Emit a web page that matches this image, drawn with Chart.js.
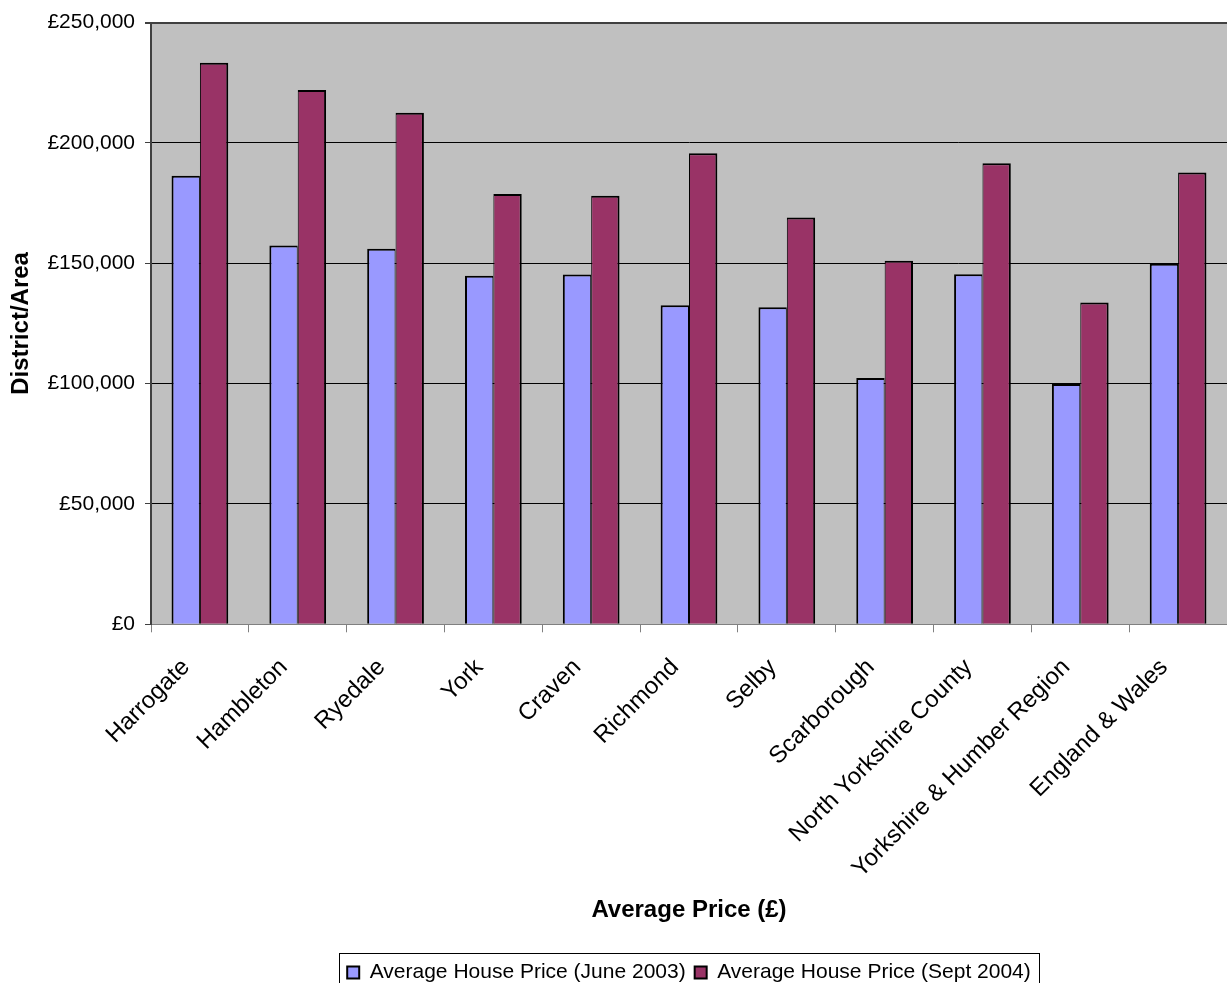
<!DOCTYPE html>
<html>
<head>
<meta charset="utf-8">
<script src="https://cdn.jsdelivr.net/npm/chart.js@4.4.1/dist/chart.umd.min.js"></script>
<style>
  html, body { margin: 0; padding: 0; background: #ffffff; }
  #wrap { width: 1227px; height: 983px; position: relative; }
</style>
</head>
<body>
<div id="wrap"><canvas id="c" width="1227" height="983"></canvas></div>
<script>
const categories = ["Harrogate", "Hambleton", "Ryedale", "York", "Craven", "Richmond", "Selby", "Scarborough", "North Yorkshire County", "Yorkshire & Humber Region", "England & Wales"];
const june2003 = [186400, 157400, 156000, 144800, 145300, 132600, 131700, 102300, 145400, 99800, 149800];
const sept2004 = [233300, 222000, 212500, 178800, 178100, 195700, 169000, 151000, 191600, 133700, 187700];
const seriesNames = ["Average House Price (June 2003)", "Average House Price (Sept 2004)"];
const yTicks = [0, 50000, 100000, 150000, 200000, 250000];
const xTitle = "Average Price (£)";
const yTitle = "District/Area";

const FONT = "'Liberation Sans', Arial, sans-serif";

const bgPlugin = {
  id: 'plotBg',
  beforeDraw(chart) {
    const {ctx, chartArea: a} = chart;
    ctx.save();
    ctx.fillStyle = '#ffffff';
    ctx.fillRect(0, 0, chart.width, chart.height);
    ctx.fillStyle = '#C0C0C0';
    ctx.fillRect(a.left, a.top, a.right - a.left, a.bottom - a.top);
    ctx.restore();
  }
};

const legendPatch = {
  id: 'legendPatch',
  afterInit(chart) {
    const lg = chart.legend;
    if (!lg) return;
    const f = lg.fit.bind(lg);
    lg.fit = function() { f(); this.height = 30; };
  },
  afterDraw(chart) {
    const lg = chart.legend;
    if (!lg || !lg.legendHitBoxes || !lg.legendHitBoxes.length) return;
    const hb = lg.legendHitBoxes;
    const left = hb[0].left - 8;
    const last = hb[hb.length - 1];
    const right = last.left + last.width + 8;
    const ctx = chart.ctx;
    ctx.save();
    ctx.strokeStyle = '#000';
    ctx.lineWidth = 1;
    ctx.strokeRect(Math.round(left) + 0.5, lg.top + 0.5, Math.round(right - left), 40);
    ctx.restore();
  }
};

const baseGen = Chart.defaults.plugins.legend.labels.generateLabels;

new Chart(document.getElementById('c'), {
  type: 'bar',
  data: {
    labels: categories,
    datasets: [
      {
        label: seriesNames[0],
        data: june2003,
        backgroundColor: '#9999FF',
        borderColor: '#000000',
        borderWidth: {top: 2, left: 2, right: 1, bottom: 0},
        borderSkipped: 'start'
      },
      {
        label: seriesNames[1],
        data: sept2004,
        backgroundColor: '#993366',
        borderColor: '#000000',
        borderWidth: {top: 2, left: 1, right: 2, bottom: 0},
        borderSkipped: 'start'
      }
    ]
  },
  options: {
    responsive: false,
    animation: false,
    devicePixelRatio: 1,
    categoryPercentage: 0.58,
    barPercentage: 1.0,
    layout: { padding: { top: 20, right: 0, bottom: 0, left: 0 } },
    plugins: {
      tooltip: { enabled: false },
      legend: {
        position: 'bottom',
        fullSize: false,
        align: 'center',
        labels: {
          color: '#000',
          font: { family: FONT, size: 21 },
          boxWidth: 12,
          boxHeight: 12,
          padding: 9,
          generateLabels(chart) {
            return baseGen(chart).map(l => Object.assign(l, { lineWidth: 2, strokeStyle: '#000' }));
          }
        }
      }
    },
    scales: {
      x: {
        grid: {
          display: true,
          drawOnChartArea: false,
          drawTicks: true,
          tickLength: 8,
          offset: true,
          color: '#808080',
          lineWidth: 1
        },
        border: { display: true, color: '#808080', width: 1 },
        ticks: {
          color: '#000',
          font: { family: FONT, size: 24 },
          minRotation: 45,
          maxRotation: 45,
          autoSkip: false,
          padding: 21,
          labelOffset: -14
        },
        title: {
          display: true,
          text: xTitle,
          color: '#000',
          font: { family: FONT, size: 24, weight: 'bold' },
          padding: { top: 0, bottom: 28 }
        },
        afterFit(scale) { scale.height = 953 - 624.3; }
      },
      y: {
        min: 0,
        max: 250000,
        afterBuildTicks(scale) { scale.ticks = yTicks.map(v => ({ value: v })); },
        grid: {
          display: true,
          drawTicks: true,
          tickLength: 6,
          color: (c) => (c.tick && c.tick.value === 250000 ? '#404040' : '#000'),
          tickColor: '#404040',
          lineWidth: (c) => (c.tick && c.tick.value === 250000 ? 2 : 1)
        },
        border: { display: true, color: '#404040', width: 2 },
        ticks: {
          color: '#000',
          font: { family: FONT, size: 21 },
          padding: 10,
          callback: (v) => '£' + Number(v).toLocaleString('en-GB')
        },
        title: {
          display: true,
          text: yTitle,
          color: '#000',
          font: { family: FONT, size: 24, weight: 'bold' },
          padding: { top: 7, bottom: 0 }
        },
        afterFit(scale) { scale.width = 151; }
      }
    }
  },
  plugins: [bgPlugin, legendPatch]
});
</script>
</body>
</html>
